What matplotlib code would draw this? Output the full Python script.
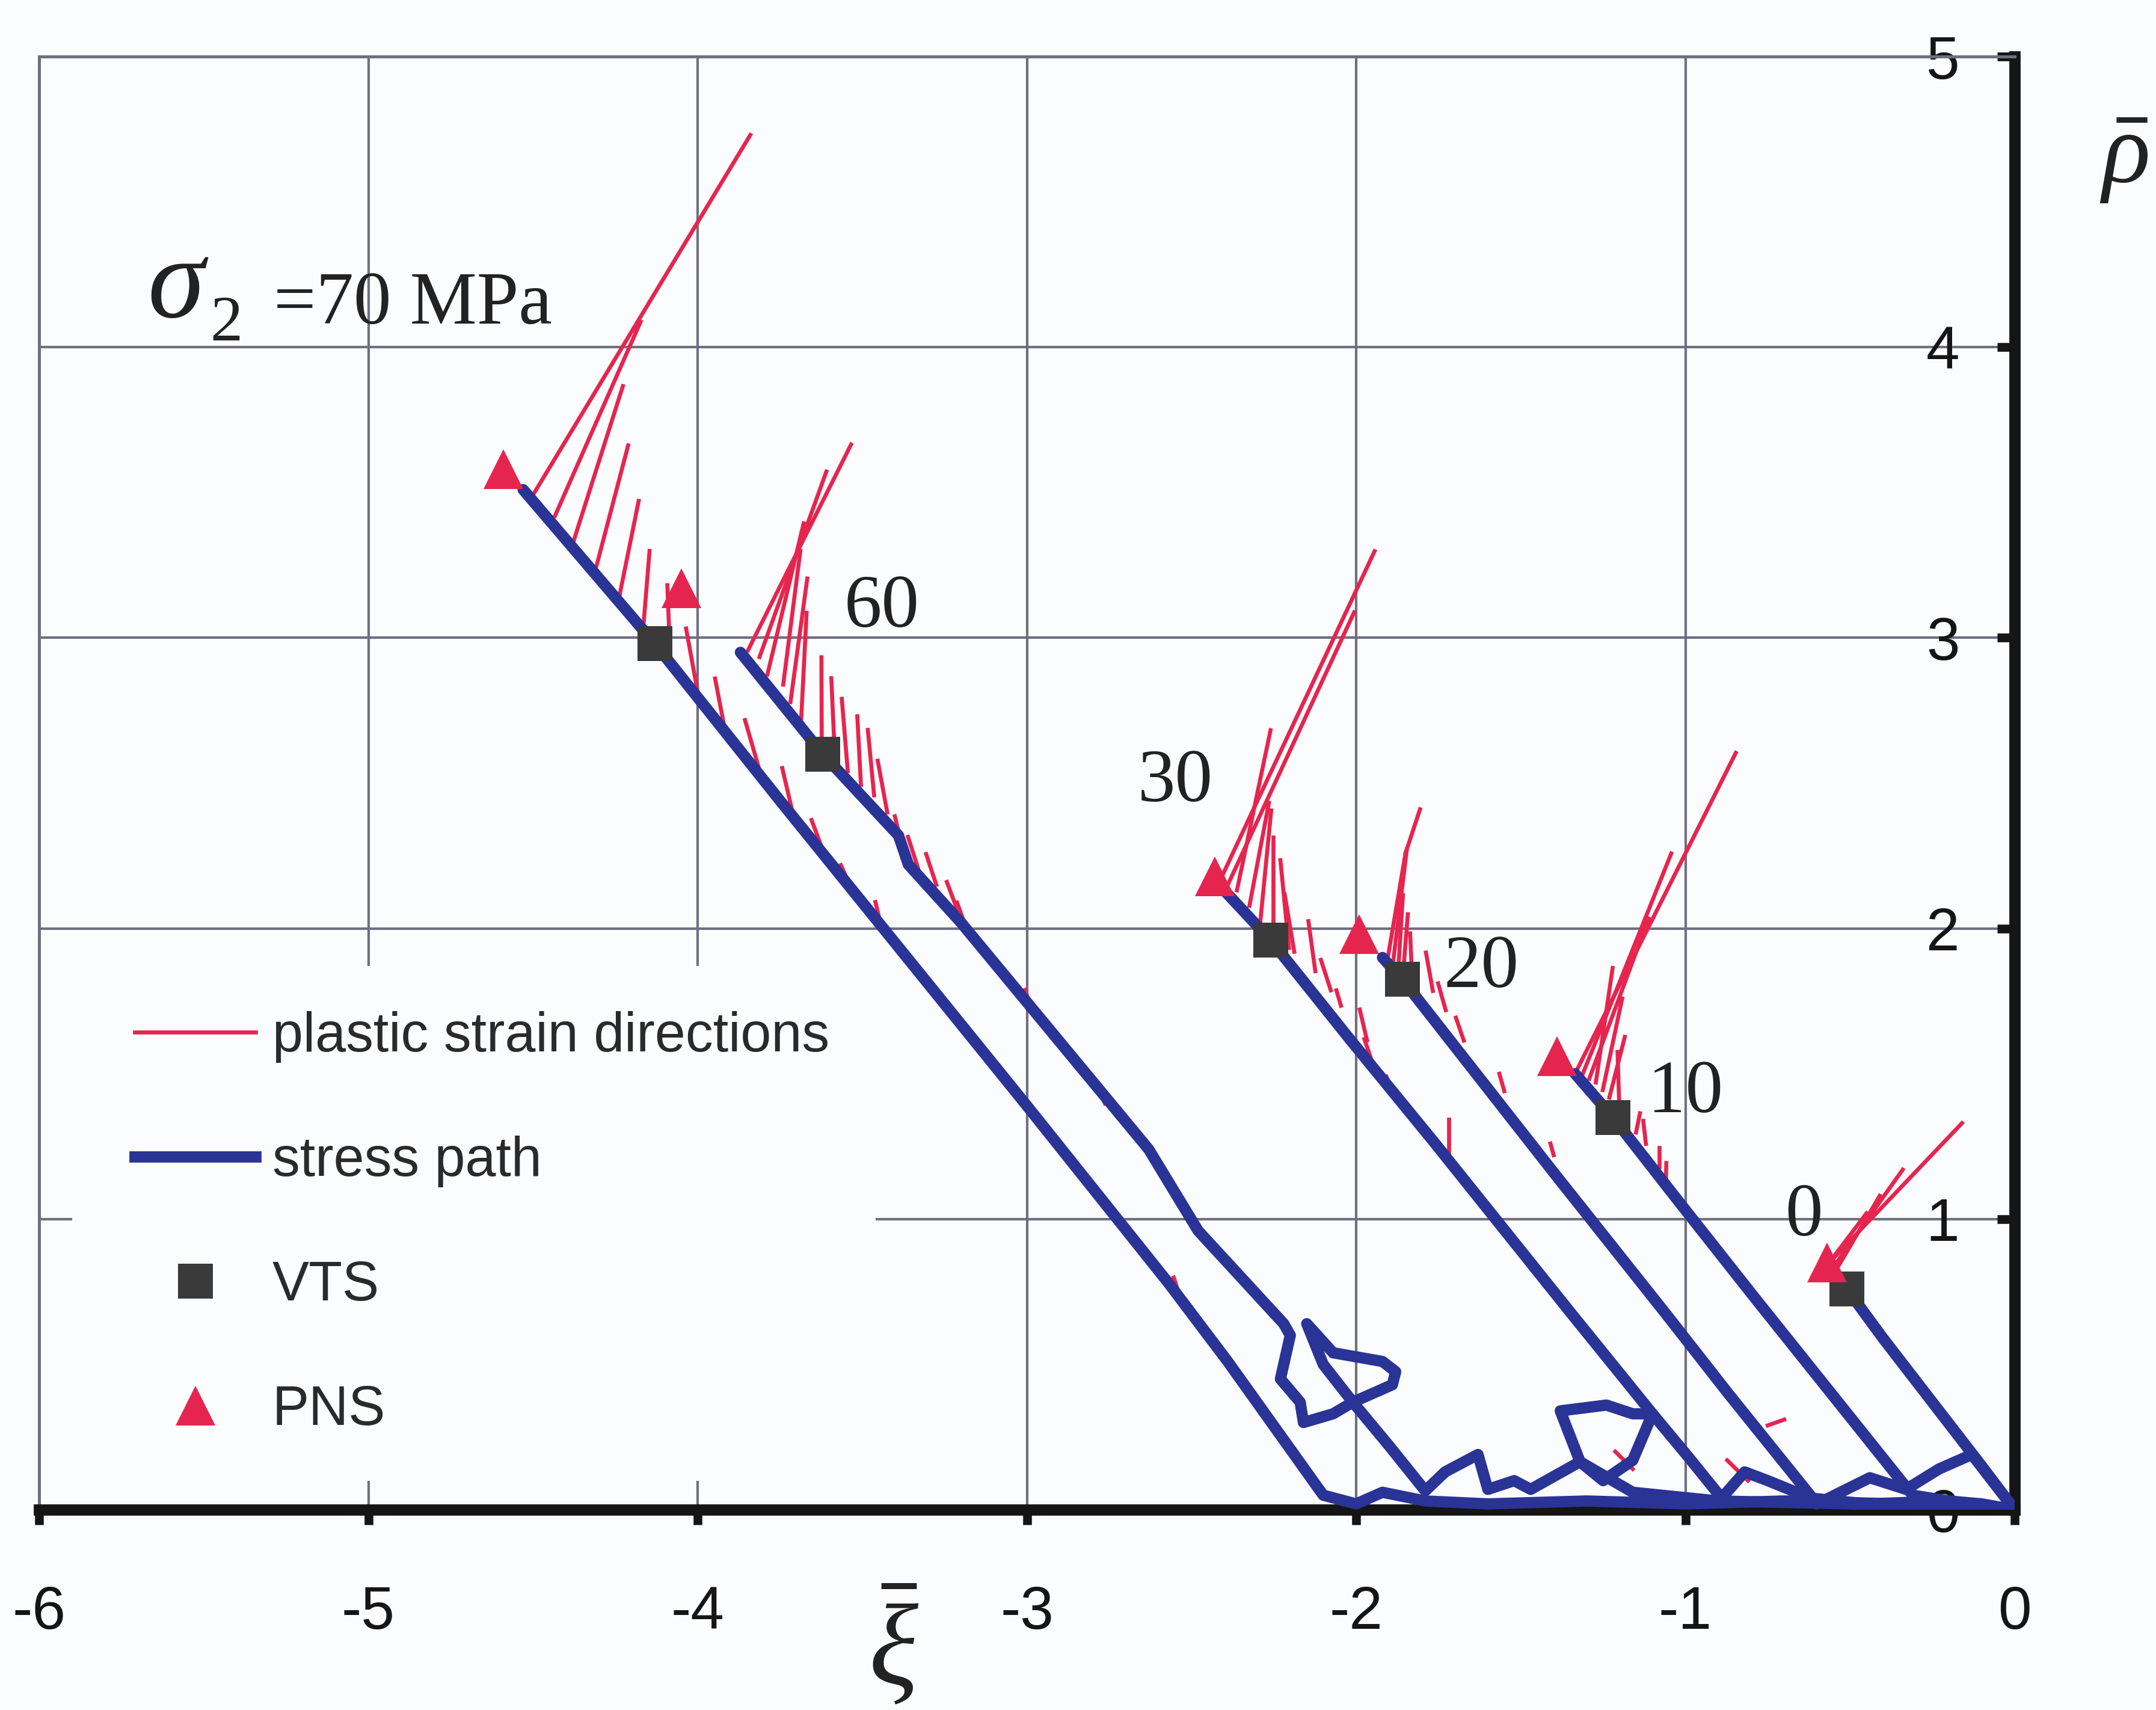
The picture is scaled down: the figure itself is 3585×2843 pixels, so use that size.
import matplotlib.pyplot as plt
from matplotlib.lines import Line2D
from matplotlib.patches import Rectangle

plt.rcParams['font.family'] = ['Liberation Sans', 'DejaVu Sans']
plt.rcParams['mathtext.fontset'] = 'custom'
plt.rcParams['mathtext.rm'] = 'Liberation Serif'
plt.rcParams['mathtext.it'] = 'Liberation Serif:italic'
plt.rcParams['axes.unicode_minus'] = False

RED = '#e6254f'
BLUE = '#2a3396'
DARK = '#3a3a3a'
GRID = '#6f6f80'

# stress paths (xi, rho), one per confining stress
path_a_xi = [0.0, -0.35, -0.70, -1.00, -1.30, -1.60, -1.79, -1.92, -2.00, -2.10, -2.39, -2.57, -3.00, -3.75, -4.13, -4.53]
path_a_rho = [0.00, 0.02, 0.03, 0.02, 0.03, 0.02, 0.03, 0.06, 0.02, 0.05, 0.51, 0.78, 1.39, 2.44, 2.98, 3.51]

path_60_xi = [0.0, -0.50, -0.90, -1.16, -1.32, -1.47, -1.52, -1.60, -1.63, -1.73, -1.79, -1.90, -2.01, -2.10, -2.15,
              -2.07, -1.92, -1.88, -1.89, -2.01, -2.07, -2.16, -2.17, -2.23, -2.22, -2.20, -2.22, -2.48, -2.63,
              -3.20, -3.36, -3.39, -3.62, -3.87]
path_60_rho = [0.0, 0.02, 0.03, 0.06, 0.165, 0.07, 0.10, 0.07, 0.19, 0.13, 0.065, 0.22, 0.37, 0.50, 0.64,
               0.54, 0.51, 0.475, 0.43, 0.37, 0.33, 0.30, 0.37, 0.45, 0.50, 0.60, 0.64, 0.96, 1.24,
               2.02, 2.22, 2.32, 2.60, 2.95]

path_30_xi = [0.0, -0.20, -0.45, -0.62, -0.75, -0.82, -0.89, -0.99, -1.10, -1.16, -1.24, -1.38, -1.32, -1.25,
              -1.16, -1.10, -1.15, -1.35, -1.76, -2.02, -2.26, -2.40]
path_30_rho = [0.0, 0.03, 0.02, 0.04, 0.10, 0.13, 0.04, 0.18, 0.33, 0.33, 0.36, 0.34, 0.165, 0.10,
               0.17, 0.33, 0.40, 0.68, 1.26, 1.62, 1.96, 2.13]

path_20_xi = [0.0, -0.13, -0.23, -0.33, -0.44, -0.60, -0.87, -1.06, -1.40, -1.86, -1.92]
path_20_rho = [0.0, 0.19, 0.14, 0.07, 0.11, 0.02, 0.40, 0.675, 1.16, 1.825, 1.90]

path_10_xi = [0.0, -0.10, -0.20, -0.31, -0.79, -1.02, -1.22, -1.335]
path_10_rho = [0.0, 0.02, 0.03, 0.05, 0.73, 1.06, 1.35, 1.50]

path_0_xi = [0.0, -0.10, -0.25, -0.40, -0.51, -0.53]
path_0_rho = [0.0, 0.15, 0.37, 0.59, 0.76, 0.78]

# plastic strain directions: (xi_base, rho_base, xi_tip, rho_tip)
psd_a = [(-4.496, 3.499, -3.840, 4.730), (-4.433, 3.420, -4.173, 4.088), (-4.378, 3.328, -4.227, 3.866),
         (-4.307, 3.248, -4.211, 3.662), (-4.240, 3.130, -4.179, 3.471), (-4.165, 3.036, -4.146, 3.299),
         (-4.085, 2.984, -4.092, 3.181), (-3.994, 2.777, -4.035, 3.032), (-3.915, 2.671, -3.947, 2.860),
         (-3.814, 2.552, -3.856, 2.717), (-3.711, 2.397, -3.743, 2.552), (-3.611, 2.243, -3.654, 2.373),
         (-3.532, 2.136, -3.565, 2.218), (-3.448, 2.034, -3.460, 2.091), (-2.540, 0.751, -2.554, 0.799)]
psd_60 = [(-3.847, 2.957, -3.534, 3.665), (-3.812, 2.934, -3.609, 3.572), (-3.788, 2.874, -3.678, 3.394),
          (-3.740, 2.839, -3.688, 3.299), (-3.718, 2.779, -3.667, 3.204), (-3.686, 2.708, -3.669, 3.086),
          (-3.623, 2.648, -3.624, 2.933), (-3.583, 2.589, -3.594, 2.861), (-3.544, 2.541, -3.562, 2.790),
          (-3.504, 2.494, -3.515, 2.730), (-3.464, 2.458, -3.483, 2.683), (-3.424, 2.399, -3.453, 2.577),
          (-3.378, 2.280, -3.401, 2.386), (-3.331, 2.209, -3.361, 2.315), (-3.275, 2.150, -3.306, 2.256),
          (-3.212, 2.066, -3.243, 2.160), (-3.182, 1.995, -3.212, 2.089), (-2.979, 1.708, -3.006, 1.788),
          (-2.763, 1.398, -2.789, 1.464)]
psd_30 = [(-2.411, 2.171, -1.944, 3.298), (-2.387, 2.157, -2.006, 3.088), (-2.362, 2.131, -2.260, 2.682),
          (-2.324, 2.078, -2.265, 2.432), (-2.292, 2.012, -2.258, 2.406), (-2.252, 1.985, -2.252, 2.314),
          (-2.204, 1.933, -2.230, 2.235), (-2.188, 1.920, -2.217, 2.117), (-2.124, 1.853, -2.145, 2.025),
          (-2.077, 1.787, -2.107, 1.892), (-2.046, 1.734, -2.060, 1.787), (-1.967, 1.615, -1.989, 1.721),
          (-1.936, 1.490, -1.975, 1.619), (-1.882, 1.426, -1.908, 1.490), (-1.718, 1.230, -1.718, 1.344)]
psd_20 = [(-1.903, 1.905, -1.850, 2.259), (-1.850, 2.259, -1.806, 2.410), (-1.887, 1.891, -1.846, 2.273),
          (-1.871, 1.878, -1.858, 2.115), (-1.856, 1.865, -1.843, 2.049), (-1.831, 1.852, -1.836, 1.983),
          (-1.767, 1.785, -1.788, 1.917), (-1.728, 1.719, -1.751, 1.811), (-1.673, 1.614, -1.697, 1.693),
          (-1.550, 1.440, -1.565, 1.500), (-1.400, 1.220, -1.410, 1.260)]
psd_10 = [(-1.334, 1.503, -0.847, 2.604), (-1.313, 1.496, -1.043, 2.258), (-1.292, 1.483, -1.112, 2.034),
          (-1.272, 1.470, -1.221, 1.864), (-1.251, 1.444, -1.192, 1.759), (-1.231, 1.418, -1.184, 1.627),
          (-1.201, 1.391, -1.206, 1.575), (-1.150, 1.298, -1.138, 1.364), (-1.120, 1.259, -1.128, 1.338),
          (-1.080, 1.180, -1.080, 1.245), (-1.059, 1.140, -1.058, 1.193)]
psd_0 = [(-0.58, 0.83, -0.16, 1.33), (-0.56, 0.82, -0.34, 1.17), (-0.55, 0.81, -0.41, 1.08),
         (-0.57, 0.84, -0.45, 1.02)]
psd_low = [(-1.16, 0.14, -1.213, 0.20), (-0.81, 0.10, -0.873, 0.17), (-0.75, 0.29, -0.70, 0.31)]

# volumetric turning state and plastic normality state points
vts_xi = [-4.13, -3.62, -2.26, -1.86, -1.22, -0.51]
vts_rho = [2.98, 2.60, 1.96, 1.825, 1.35, 0.76]
pns_xi = [-4.59, -4.05, -2.43, -1.99, -1.39, -0.57]
pns_rho = [3.58, 3.17, 2.18, 1.98, 1.56, 0.85]

path_labels = ['60', '30', '20', '10', '0']
label_xi = [-3.44, -2.55, -1.62, -1.00, -0.64]
label_rho = [3.10, 2.50, 1.86, 1.43, 1.005]

xticks = [-6, -5, -4, -3, -2, -1, 0]
yticks = [0, 1, 2, 3, 4, 5]

fig = plt.figure(figsize=(3585 / 300, 2843 / 300), dpi=300)
fig.patch.set_facecolor('#fbfcfd')
ax = fig.add_axes([65 / 3585, 1 - 2510 / 2843, 3285 / 3585, 2416 / 2843])
ax.set_facecolor('none')
ax.set_xlim(-6, 0)
ax.set_ylim(0, 5)
ax.set_axisbelow(True)
ax.grid(color=GRID, lw=1.0)

for s in ['left', 'top']:
    ax.spines[s].set_color(GRID)
    ax.spines[s].set_linewidth(1.2)
for s in ['right', 'bottom']:
    ax.spines[s].set_color('#151515')
    ax.spines[s].set_linewidth(4.5)

ax.set_xticks(xticks)
ax.set_xticklabels([str(v) for v in xticks])
ax.set_yticks(yticks)
ax.set_yticklabels([str(v) for v in yticks])
ax.yaxis.set_ticks_position('right')
ax.tick_params(axis='x', direction='out', length=6, width=3.5, pad=24, labelsize=24, colors='#151515')
ax.tick_params(axis='y', direction='in', length=7, width=3.5, pad=-22, labelsize=24, colors='#151515')
for t in ax.yaxis.get_major_ticks():
    t.label2.set_horizontalalignment('right')

# white legend area hides the grid behind it
ax.add_patch(Rectangle((-5.90, 0.10), 2.44, 1.77, facecolor='#fbfcfd', edgecolor='none', zorder=1))

paths = [(path_a_xi, path_a_rho), (path_60_xi, path_60_rho), (path_30_xi, path_30_rho),
         (path_20_xi, path_20_rho), (path_10_xi, path_10_rho), (path_0_xi, path_0_rho)]
for px, pr in paths:
    ax.plot(px, pr, color=BLUE, lw=4.5, solid_joinstyle='round', solid_capstyle='round', zorder=3)

for group in [psd_a, psd_60, psd_30, psd_20, psd_10, psd_0, psd_low]:
    for bx, br, tx, tr in group:
        ax.plot([bx, tx], [br, tr], color=RED, lw=1.6, zorder=2.8)

ax.plot(vts_xi, vts_rho, ls='none', marker='s', ms=14, color=DARK, mew=0, zorder=4)
ax.plot(pns_xi, pns_rho, ls='none', marker='^', ms=16, color=RED, mew=0, zorder=4)

for txt, lx, ly in zip(path_labels, label_xi, label_rho):
    ax.text(lx, ly, txt, fontfamily='Liberation Serif', fontsize=30, color='#222222',
            ha='center', va='center', zorder=5)

handles = [Line2D([], [], color=RED, lw=1.6),
           Line2D([], [], color=BLUE, lw=4.5),
           Line2D([], [], ls='none', marker='s', ms=14, color=DARK, mew=0),
           Line2D([], [], ls='none', marker='^', ms=16, color=RED, mew=0)]
labels = ['plastic strain directions', 'stress path', 'VTS', 'PNS']
leg = ax.legend(handles, labels, loc='upper left', bbox_to_anchor=(-5.71, 1.715),
                bbox_transform=ax.transData, frameon=False, fontsize=22,
                handlelength=2.2, handletextpad=0.3, labelspacing=1.32,
                borderpad=0, borderaxespad=0)
for t in leg.get_texts():
    t.set_color('#2a2a2a')

# sigma_2 = 70 MPa note
fig.text(0.0683, 0.8146, '\u03c3', fontfamily='Liberation Serif', style='italic', fontsize=46,
         va='baseline', ha='left', color='#222222')
fig.text(0.0975, 0.8010, '2', fontfamily='Liberation Serif', fontsize=26,
         va='baseline', ha='left', color='#222222')
fig.text(0.1269, 0.8108, '=70 MPa', fontfamily='Liberation Serif', fontsize=30,
         va='baseline', ha='left', color='#222222')

# axis symbols
fig.text(0.4146, 0.037, r'$\bar{\xi}$', fontsize=46, ha='center', va='center', color='#222222')
fig.text(0.985, 0.9075, r'$\bar{\rho}$', fontsize=40, ha='center', va='center', color='#222222')

fig.savefig('out.png', dpi=300, facecolor=fig.get_facecolor())
